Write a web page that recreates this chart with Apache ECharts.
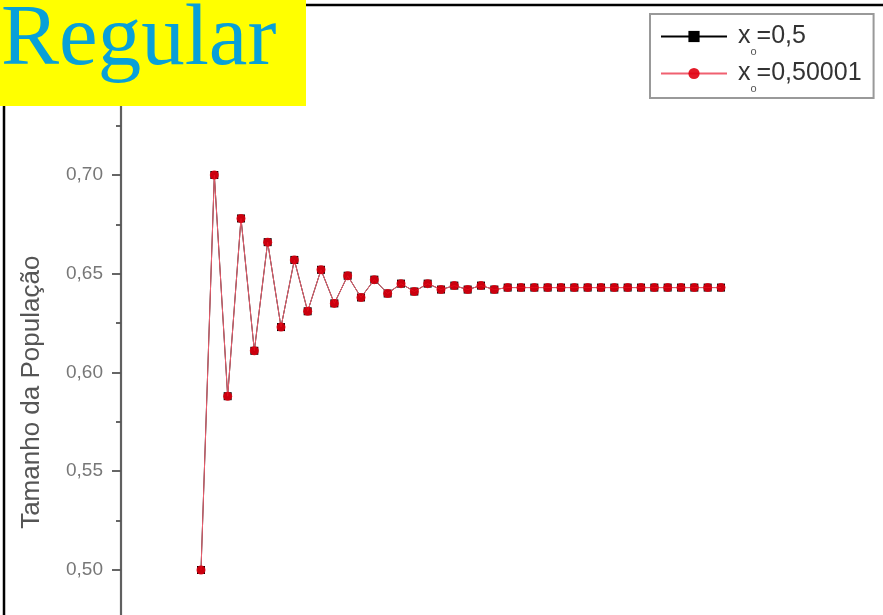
<!DOCTYPE html>
<html>
<head>
<meta charset="utf-8">
<script src="https://cdn.jsdelivr.net/npm/echarts@6/dist/echarts.min.js"></script>
<style>
  html, body { margin: 0; padding: 0; background: #fff; }
  #chart { width: 883px; height: 615px; }
</style>
</head>
<body>
<div id="chart"></div>
<script>
// Iteration index n of the logistic map
const iterations = [0,1,2,3,4,5,6,7,8,9,10,11,12,13,14,15,16,17,18,19,
                    20,21,22,23,24,25,26,27,28,29,30,31,32,33,34,35,36,37,38,39];

// Population size x_n starting from x_o = 0,5
const popA = [0.500,0.700,0.588,0.678,0.611,0.666,0.623,0.657,0.631,0.652,
              0.635,0.649,0.638,0.647,0.640,0.645,0.641,0.645,0.642,0.644,
              0.642,0.644,0.642,0.643,0.643,0.643,0.643,0.643,0.643,0.643,
              0.643,0.643,0.643,0.643,0.643,0.643,0.643,0.643,0.643,0.643];

// Population size x_n starting from x_o = 0,50001
const popB = [0.500,0.700,0.588,0.678,0.611,0.666,0.623,0.657,0.631,0.652,
              0.635,0.649,0.638,0.647,0.640,0.645,0.641,0.645,0.642,0.644,
              0.642,0.644,0.642,0.643,0.643,0.643,0.643,0.643,0.643,0.643,
              0.643,0.643,0.643,0.643,0.643,0.643,0.643,0.643,0.643,0.643];

const yTicks = { min: 0.40, max: 0.78, interval: 0.05 };
const seriesNames = ['xo=0,5', 'xo=0,50001'];
const legendRich = {
  'xo=0,5': '{t|x}{s|o}{t|=0,5}',
  'xo=0,50001': '{t|x}{s|o}{t|=0,50001}'
};

const pairs = arr => iterations.map((n, i) => [n, arr[i]]);

const chart = echarts.init(document.getElementById('chart'), null, { renderer: 'canvas' });

chart.setOption({
  backgroundColor: '#ffffff',
  animation: false,
  grid: {
    left: 121, top: 17, width: 880, height: 750.5,
    containLabel: false,
    outerBoundsMode: 'none'
  },
  xAxis: {
    type: 'value', min: -6, max: 60, show: false
  },
  yAxis: {
    type: 'value',
    min: yTicks.min, max: yTicks.max, interval: yTicks.interval,
    name: 'Tamanho da População',
    nameLocation: 'middle',
    nameGap: 76,
    nameTextStyle: { fontFamily: 'Liberation Sans, Arial, sans-serif', fontSize: 26, color: '#555' },
    axisLine: { show: true, onZero: false, lineStyle: { color: '#606060', width: 2.2 } },
    axisTick: { show: true, inside: false, length: 9, lineStyle: { color: '#555', width: 1.8 } },
    minorTick: { show: true, splitNumber: 2, length: 5, lineStyle: { color: '#555', width: 1.8 } },
    splitLine: { show: false },
    axisLabel: {
      margin: 18,
      showMaxLabel: false,
      color: '#777',
      fontFamily: 'Liberation Sans, Arial, sans-serif',
      fontSize: 19,
      formatter: v => v.toFixed(2).replace('.', ',')
    }
  },
  legend: {
    orient: 'vertical',
    left: 650, top: 14,
    padding: [2, 12, 4, 10],
    itemGap: -4,
    itemWidth: 66,
    itemHeight: 14,
    borderColor: '#999',
    borderWidth: 2,
    backgroundColor: '#fff',
    data: seriesNames,
    formatter: name => legendRich[name],
    textStyle: {
      padding: [0, 0, 0, 6],
      rich: {
        t: { fontFamily: 'Liberation Sans, Arial, sans-serif', fontSize: 25, color: '#333', lineHeight: 27 },
        s: { fontFamily: 'Liberation Sans, Arial, sans-serif', fontSize: 11, color: '#555', lineHeight: 12, padding: [30, 0, 0, 0] }
      }
    }
  },
  series: [
    {
      name: seriesNames[0],
      type: 'line',
      data: pairs(popA),
      symbol: 'rect',
      symbolSize: 8,
      itemStyle: { color: '#000' },
      lineStyle: { color: '#000', width: 1 },
      z: 2
    },
    {
      name: seriesNames[1],
      type: 'line',
      data: pairs(popB),
      symbol: 'circle',
      symbolSize: 9,
      itemStyle: { color: '#e00010', opacity: 0.9 },
      lineStyle: { color: '#f06070', width: 1 },
      z: 3
    }
  ],
  graphic: [
    { type: 'line', shape: { x1: 4, y1: 100, x2: 4, y2: 615 }, style: { stroke: '#000', lineWidth: 2.5 }, z: 50 },
    { type: 'line', shape: { x1: 300, y1: 5, x2: 883, y2: 5 }, style: { stroke: '#000', lineWidth: 2.5 }, z: 50 },
    { type: 'rect', shape: { x: 0, y: 0, width: 306, height: 106 }, style: { fill: '#ffff00' }, z: 60 },
    {
      type: 'text', x: 1, y: -2, z: 61,
      style: {
        text: 'Regular',
        font: '87px "Liberation Serif", "Times New Roman", serif',
        fill: '#08a0d8',
        verticalAlign: 'top'
      }
    }
  ]
});
</script>
</body>
</html>
